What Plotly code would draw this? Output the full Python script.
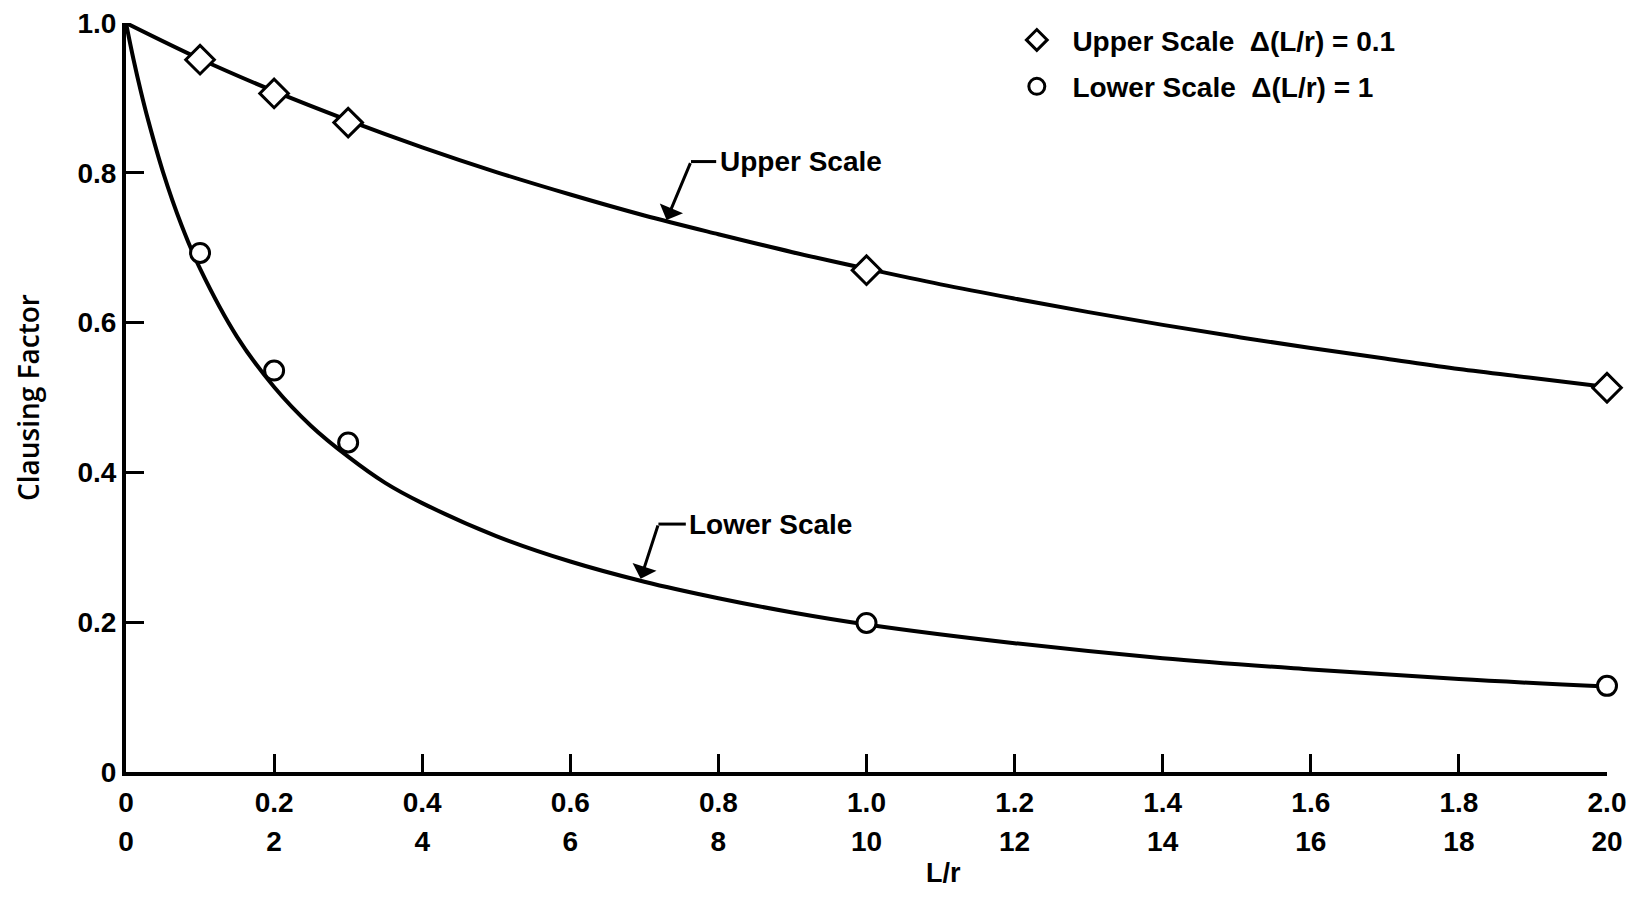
import plotly.graph_objects as go

# Upper scale (L/r from 0 to 2.0)
upper_curve_x = [0, 0.1, 0.2, 0.3, 0.4, 0.5, 0.6, 0.7, 0.8, 0.9, 1.0, 1.1, 1.2, 1.3, 1.4, 1.5, 1.6, 1.7, 1.8, 1.9, 2.0]
upper_curve_y = [1.0, 0.952, 0.909, 0.870, 0.834, 0.801, 0.771, 0.743, 0.718, 0.694, 0.672, 0.651, 0.632, 0.614, 0.597, 0.581, 0.566, 0.552, 0.538, 0.526, 0.514]
upper_pts_x = [0.1, 0.2, 0.3, 1.0, 2.0]
upper_pts_y = [0.951, 0.906, 0.867, 0.670, 0.513]

# Lower scale (L/r from 0 to 20)
lower_curve_x = [0, 0.1, 0.2, 0.3, 0.5, 0.75, 1.0, 1.5, 2.0, 2.5, 3.0, 3.5, 4.0, 5.0, 6.0, 7.0, 8.0, 9.0, 10.0, 12.0, 14.0, 16.0, 18.0, 20.0]
lower_curve_y = [1.0, 0.952, 0.909, 0.870, 0.801, 0.730, 0.672, 0.581, 0.514, 0.462, 0.421, 0.386, 0.359, 0.315, 0.281, 0.254, 0.232, 0.213, 0.197, 0.172, 0.152, 0.137, 0.124, 0.114]
lower_pts_x = [1, 2, 3, 10, 20]
lower_pts_y = [0.693, 0.536, 0.440, 0.199, 0.115]

upper_ticks = [0, 0.2, 0.4, 0.6, 0.8, 1.0, 1.2, 1.4, 1.6, 1.8, 2.0]
upper_ticktext = ["0", "0.2", "0.4", "0.6", "0.8", "1.0", "1.2", "1.4", "1.6", "1.8", "2.0"]
lower_ticks = [0, 2, 4, 6, 8, 10, 12, 14, 16, 18, 20]
lower_ticktext = ["0", "2", "4", "6", "8", "10", "12", "14", "16", "18", "20"]
y_ticks = [0, 0.2, 0.4, 0.6, 0.8, 1.0]
y_ticktext = ["0", "0.2", "0.4", "0.6", "0.8", "1.0"]

FONT = "Liberation Sans, Arial, sans-serif"
BOLD = dict(family=FONT, size=28, color="black", weight="bold")
NB = "\u00a0"

fig = go.Figure()
fig.add_trace(go.Scatter(x=upper_curve_x, y=upper_curve_y, mode="lines", line=dict(color="black", width=4, shape="spline"),
                         xaxis="x", yaxis="y", showlegend=False, hoverinfo="skip"))
fig.add_trace(go.Scatter(x=lower_curve_x, y=lower_curve_y, mode="lines", line=dict(color="black", width=4, shape="spline"),
                         xaxis="x2", yaxis="y", showlegend=False, hoverinfo="skip"))
fig.add_trace(go.Scatter(x=upper_pts_x, y=upper_pts_y, mode="markers", name=NB * 2 + "Upper Scale" + NB * 2 + "\u0394(L/r) = 0.1",
                         marker=dict(symbol="diamond", size=22, color="white", line=dict(color="black", width=3)),
                         xaxis="x", yaxis="y", legend="legend", cliponaxis=False))
fig.add_trace(go.Scatter(x=lower_pts_x, y=lower_pts_y, mode="markers", name=NB * 2 + "Lower Scale" + NB * 2 + "\u0394(L/r) = 1",
                         marker=dict(symbol="circle", size=19, color="white", line=dict(color="black", width=3)),
                         xaxis="x2", yaxis="y", legend="legend2", cliponaxis=False))

# Leader annotations
fig.add_annotation(x=0.730, y=0.737, ax=0.763, ay=0.815, xref="x", yref="y", axref="x", ayref="y",
                   text="", showarrow=True, arrowhead=1, arrowsize=1.4, arrowwidth=3, arrowcolor="black")
fig.add_shape(type="line", x0=0.763, y0=0.815, x1=0.797, y1=0.815, xref="x", yref="y", line=dict(color="black", width=3))
fig.add_annotation(x=0.800, y=0.815, xref="x", yref="y", text="Upper Scale", showarrow=False, xanchor="left",
                   font=dict(family=FONT, size=28, color="black", weight="bold"))

fig.add_annotation(x=0.695, y=0.258, ax=0.719, ay=0.331, xref="x", yref="y", axref="x", ayref="y",
                   text="", showarrow=True, arrowhead=1, arrowsize=1.4, arrowwidth=3, arrowcolor="black")
fig.add_shape(type="line", x0=0.719, y0=0.331, x1=0.756, y1=0.331, xref="x", yref="y", line=dict(color="black", width=3))
fig.add_annotation(x=0.758, y=0.331, xref="x", yref="y", text="Lower Scale", showarrow=False, xanchor="left",
                   font=dict(family=FONT, size=28, color="black", weight="bold"))

# Axis title L/r
fig.add_annotation(x=0.552, y=-0.1560, xref="paper", yref="paper", text="L/r", showarrow=False, borderpad=0,
                   xanchor="center", yanchor="bottom", font=dict(family=FONT, size=27, color="black", weight="bold"))

fig.update_layout(
    width=1630, height=881,
    margin=dict(l=118, r=31, t=15, b=117, autoexpand=False),
    plot_bgcolor="white", paper_bgcolor="white",
    xaxis=dict(range=[0, 2.0], tickvals=upper_ticks, ticktext=upper_ticktext, showline=True, linewidth=4, linecolor="black",
               ticks="inside", ticklen=18, tickwidth=3, tickcolor="black", showgrid=False, zeroline=False,
               tickfont=BOLD, ticklabelstandoff=2, anchor="y", automargin=False, ticklabeloverflow="allow"),
    xaxis2=dict(range=[0, 20], tickvals=lower_ticks, ticktext=lower_ticktext, overlaying="x", side="bottom", anchor="y",
                showline=False, ticks="", showgrid=False, zeroline=False, tickfont=BOLD, ticklabelstandoff=50,
                automargin=False, ticklabeloverflow="allow"),
    yaxis=dict(range=[0, 1.0], tickvals=y_ticks, ticktext=y_ticktext, showline=True, linewidth=4, linecolor="black",
               ticks="inside", ticklen=18, tickwidth=3, tickcolor="black", showgrid=False, zeroline=False,
               tickfont=BOLD, ticklabelstandoff=0, automargin=False, ticklabeloverflow="allow",
               title=dict(text="Clausing Factor", font=dict(family="Open Sans, sans-serif", size=28, color="black", weight=600),
                          standoff=31)),
    legend=dict(x=0.6015, y=0.977, xanchor="left", yanchor="middle", font=dict(family=FONT, size=28, color="black", weight="bold"),
                bgcolor="rgba(0,0,0,0)"),
    legend2=dict(x=0.6015, y=0.915, xanchor="left", yanchor="middle", font=dict(family=FONT, size=28, color="black", weight="bold"),
                 bgcolor="rgba(0,0,0,0)"),
)

fig.write_html("out.html")
